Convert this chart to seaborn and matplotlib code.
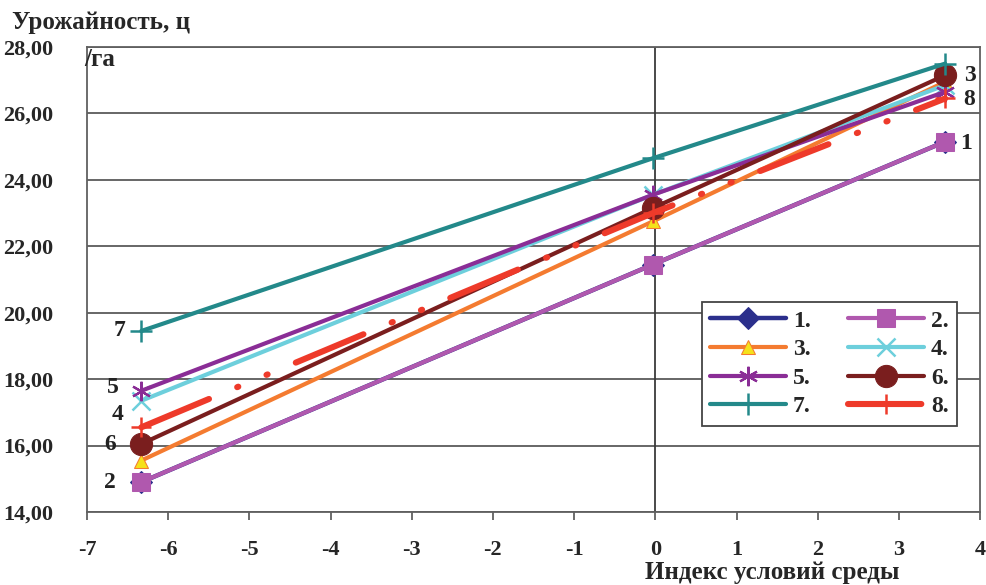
import matplotlib
matplotlib.use("Agg")
import matplotlib.pyplot as plt
import seaborn as sns
import numpy as np
import pandas as pd
from matplotlib.ticker import FuncFormatter

# ---- data ----
env_index = [-6.33, -0.03, 3.57]
s1 = [14.90, 21.45, 25.15]
s2 = [14.90, 21.45, 25.15]
s3 = [15.55, 22.75, 26.95]
s4 = [17.35, 23.55, 26.85]
s5 = [17.65, 23.55, 26.65]
s6 = [16.05, 23.15, 27.15]
s7 = [19.45, 24.65, 27.50]
s8 = [16.55, 23.00, 26.45]
series_names = ["1.", "2.", "3.", "4.", "5.", "6.", "7.", "8."]
series_values = [s1, s2, s3, s4, s5, s6, s7, s8]
x_ticks = list(range(-7, 5))
y_ticks = [14, 16, 18, 20, 22, 24, 26, 28]

df = pd.DataFrame({
    "x": np.tile(env_index, len(series_names)),
    "y": np.concatenate(series_values),
    "series": np.repeat(series_names, len(env_index)),
})

# ---- styles ----
styles = {
    "1.": dict(color="#2B2F8C", marker="D", markersize=11, lw=3.2, mfc="#2B2F8C", mec="#2B2F8C"),
    "2.": dict(color="#B058AE", marker="s", markersize=13, lw=3.0, mfc="#B058AE", mec="#B058AE"),
    "3.": dict(color="#F47B30", marker="^", markersize=10, lw=3.0, mfc="#F5E11B", mec="#F47B30"),
    "4.": dict(color="#6DCFDC", marker="x", markersize=13, lw=3.0, mew=1.8, mec="#6DCFDC"),
    "5.": dict(color="#8A2D96", marker=(6, 2, 0), markersize=14, lw=3.0, mew=1.6, mec="#8A2D96"),
    "6.": dict(color="#7A1E1E", marker="o", markersize=16, lw=3.0, mfc="#7A1E1E", mec="#7A1E1E"),
    "7.": dict(color="#23898A", marker="+", markersize=16, lw=3.0, mew=1.8, mec="#23898A"),
    "8.": dict(color="#EE3A2A", marker="+", markersize=14, lw=4.4, mew=1.8, mec="#EE3A2A",
               dashes=(12, 5, 0.2, 5, 0.2, 5), dash_capstyle="round"),
}

sns.set_style("white")
plt.rcParams["font.family"] = ["Liberation Serif", "DejaVu Serif"]
plt.rcParams["font.weight"] = "bold"

fig = plt.figure(figsize=(9.87, 5.85), dpi=100)
ax = fig.add_axes([0.0881, 0.1248, 0.9049, 0.7949])

for name in series_names:
    sub = df[df["series"] == name]
    st = dict(styles[name])
    color = st.pop("color")
    sns.lineplot(data=sub, x="x", y="y", ax=ax, color=color, label=name,
                 zorder=3, **st)

ax.set_xlim(-7, 4)
ax.set_ylim(14, 28)
ax.set_xticks(x_ticks)
ax.set_yticks(y_ticks)
ax.yaxis.set_major_formatter(FuncFormatter(lambda v, p: f"{v:.2f}".replace(".", ",")))
ax.xaxis.set_major_formatter(FuncFormatter(lambda v, p: f"{int(v)}"))

ax.yaxis.grid(True, color="#5a5a5a", lw=1.3, zorder=1)
ax.xaxis.grid(False)
ax.axvline(0, color="#3a3a3a", lw=1.3, zorder=1)
for sp in ax.spines.values():
    sp.set_color("#606060")
    sp.set_linewidth(1.3)

ax.tick_params(axis="x", direction="out", length=6, width=1.3, color="#606060",
               labelsize=16, pad=14, bottom=True)
ax.tick_params(axis="y", length=0, labelsize=16, pad=24)
for lab in ax.get_xticklabels() + ax.get_yticklabels():
    lab.set_fontweight("bold")
ax.set_xlabel("")
ax.set_ylabel("")

# series labels next to the points
lab_kw = dict(fontsize=17, fontweight="bold", color="#222222", ha="center", va="center")
ax.text(-6.60, 19.45, "7", **lab_kw)
ax.text(-6.68, 17.75, "5", **lab_kw)
ax.text(-6.62, 16.95, "4", **lab_kw)
ax.text(-6.72, 16.02, "6", **lab_kw)
ax.text(-6.72, 14.90, "2", **lab_kw)
ax.text(3.88, 27.15, "3", **lab_kw)
ax.text(3.86, 26.42, "8", **lab_kw)
ax.text(3.83, 25.10, "1", **lab_kw)

# axis titles
fig.text(0.012, 0.962, "Урожайность, ц", fontsize=18, fontweight="bold", ha="left", va="center")
fig.text(0.085, 0.898, "/га", fontsize=18, fontweight="bold", ha="left", va="center")
fig.text(0.782, 0.022, "Индекс условий среды", fontsize=18, fontweight="bold", ha="center", va="center")

# legend filled row by row (1. 2. / 3. 4. / ...)
handles, labels = ax.get_legend_handles_labels()
order = [0, 2, 4, 6, 1, 3, 5, 7]
leg = ax.legend([handles[i] for i in order], [labels[i] for i in order],
                ncol=2, loc="upper right", bbox_to_anchor=(0.974, 0.452),
                frameon=True, fancybox=False, edgecolor="#444444", framealpha=1,
                prop=dict(size=17, weight="bold"), handlelength=3.2,
                columnspacing=1.6, labelspacing=0.3, handletextpad=0.3,
                borderpad=0.35, borderaxespad=0)
leg.get_frame().set_linewidth(1.3)
leg.set_zorder(5)

fig.savefig("out.png", dpi=100)
